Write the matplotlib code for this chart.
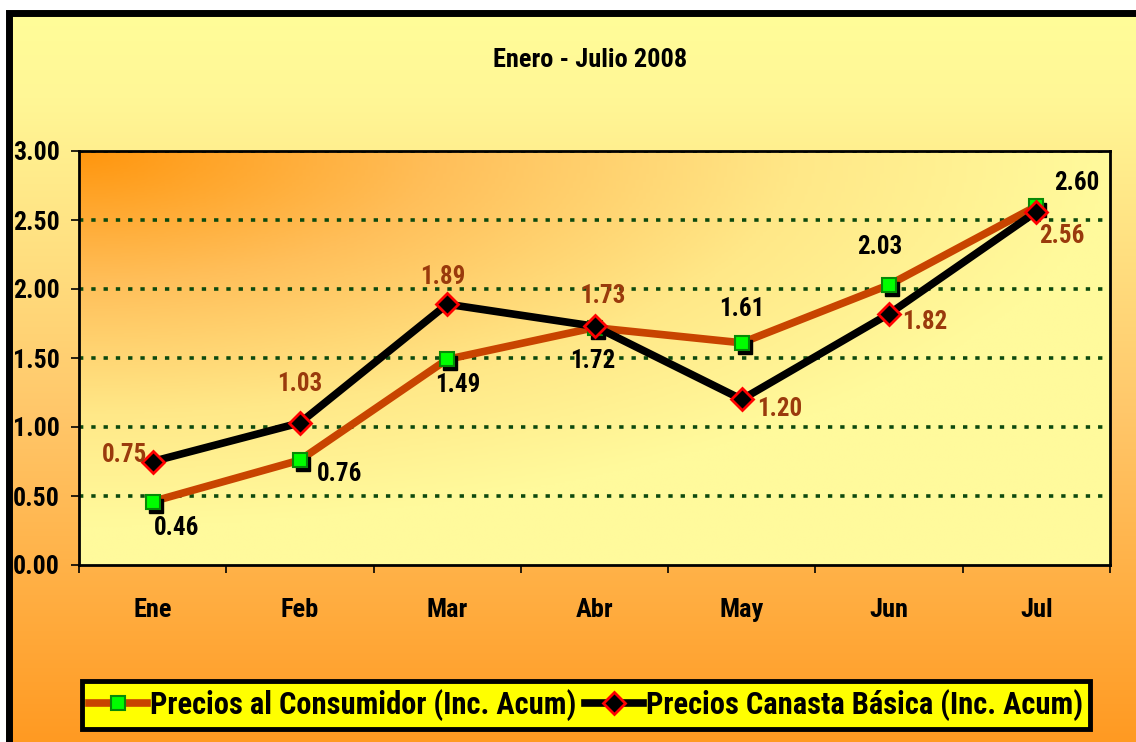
import matplotlib.pyplot as plt
import matplotlib.transforms as mtransforms
import numpy as np
from matplotlib.patches import Rectangle
from matplotlib.colors import LinearSegmentedColormap
from matplotlib.lines import Line2D

# data
meses = ["Ene", "Feb", "Mar", "Abr", "May", "Jun", "Jul"]
consumidor = [0.46, 0.76, 1.49, 1.72, 1.61, 2.03, 2.60]
canasta = [0.75, 1.03, 1.89, 1.73, 1.20, 1.82, 2.56]

# label offsets in pixels (dx, dy, dy positive = up)
off_consumidor = [(24, -26), (40, -14), (11, -26), (-2, -33), (0, 34), (-9, 38), (40, 23)]
off_canasta = [(-28, 6), (0, 39), (-4, 27), (8, 30), (38, -10), (36, -8), (25, -24)]

W, H = 1136, 742
FONT = ['Liberation Sans Narrow', 'Roboto Condensed', 'PT Sans Narrow', 'Archivo Narrow',
        'Open Sans Condensed', 'Liberation Sans', 'DejaVu Sans']
plt.rcParams['font.family'] = FONT
plt.rcParams['font.weight'] = 'bold'

ORANGE_LINE = '#C84400'
BROWN_TXT = '#9A3A0C'
px = 72.0 / 100  # points per pixel at dpi 100

fig = plt.figure(figsize=(W / 100, H / 100), dpi=100)
fig.patch.set_facecolor('white')

# outer background, vertical gradient
bg = fig.add_axes([6 / W, 0, 1 - 6 / W, 1 - 10 / H], zorder=-10)
cm_bg = LinearSegmentedColormap.from_list('bg', [(0, '#FFFD99'), (0.12, '#FFF796'),
                                                 (0.55, '#FFC76A'), (1, '#FF9A22')])
grad = np.linspace(0, 1, 256).reshape(-1, 1)
bg.imshow(grad, aspect='auto', cmap=cm_bg, extent=[0, 1, 0, 1], origin='upper')
bg.set_axis_off()

# thick outer frame
fig.patches.append(Rectangle((9 / W, -0.1), 1.2, 1 - 13 / H + 0.1, transform=fig.transFigure,
                             fill=False, edgecolor='black', linewidth=5, zorder=5))

# plot area
x0, x1, yt, yb = 79, 1110, 151, 565
ax = fig.add_axes([x0 / W, 1 - yb / H, (x1 - x0) / W, (yb - yt) / H])

# gradient from the top left corner (orange) to light yellow
gx, gy = np.meshgrid(np.linspace(0, 1, 300), np.linspace(0, 1, 200))
d = np.clip(np.sqrt((gx * 1.0) ** 2 + (gy * 1.1) ** 2), 0, 1)
cm_pa = LinearSegmentedColormap.from_list('pa', [(0, '#FF960E'), (0.35, '#FFBF5A'),
                                                 (0.7, '#FFE888'), (1, '#FFFA9C')])
ax.imshow(d, aspect='auto', cmap=cm_pa, extent=[-0.5, 6.5, 0, 3], origin='upper', zorder=0,
          vmin=0, vmax=1)
ax.set_xlim(-0.5, 6.5)
ax.set_ylim(0, 3)

# dotted grid
for v in np.arange(0.5, 3.01, 0.5):
    ax.axhline(v, color='#0E4A0E', linestyle=(0, (1.2, 2.2)), linewidth=2.6, zorder=1)

for s in ax.spines.values():
    s.set_linewidth(2)
    s.set_color('black')

ax.set_yticks(np.arange(0, 3.01, 0.5))
ax.set_yticklabels([f"{v:.2f}" for v in np.arange(0, 3.01, 0.5)], fontsize=18.5)
ax.set_xticks(np.arange(-0.5, 6.6, 1))
ax.set_xticklabels([])
ax.set_xticks(range(len(meses)), minor=True)
ax.set_xticklabels(meses, minor=True, fontsize=19)
ax.tick_params(axis='y', length=6, width=1.2, pad=8)
ax.tick_params(axis='x', which='major', direction='out', length=6, width=1.2)
ax.tick_params(axis='x', which='minor', length=0, pad=24)

x = np.arange(len(meses))
ax.plot(x, consumidor, color=ORANGE_LINE, linewidth=5.5, zorder=3, solid_capstyle='round')
# black shadow behind the square markers
shadow = ax.transData + mtransforms.ScaledTranslation(3 / 100, -4 / 100, fig.dpi_scale_trans)
ax.plot(x, consumidor, linestyle='none', marker='s', markersize=9.5, color='black', zorder=3.5,
        transform=shadow)
ax.plot(x, consumidor, linestyle='none', marker='s', markersize=9.5, markerfacecolor='#00FF00',
        markeredgecolor='#078A07', markeredgewidth=1.5, zorder=4)
ax.plot(x, canasta, color='black', linewidth=5.5, zorder=5, marker='D', markersize=11,
        markerfacecolor='black', markeredgecolor='#FF0000', markeredgewidth=2)

for i in range(len(meses)):
    dx, dy = off_consumidor[i]
    ax.annotate(f"{consumidor[i]:.2f}", (x[i], consumidor[i]), xytext=(dx * px, dy * px),
                textcoords='offset points', ha='center', va='center', fontsize=18,
                color='black', zorder=6)
    dx, dy = off_canasta[i]
    ax.annotate(f"{canasta[i]:.2f}", (x[i], canasta[i]), xytext=(dx * px, dy * px),
                textcoords='offset points', ha='center', va='center', fontsize=18,
                color=BROWN_TXT, zorder=6)

fig.text(590 / W, 1 - 60 / H, "Enero - Julio 2008", ha='center', va='center', fontsize=19)

handles = [
    Line2D([], [], color=ORANGE_LINE, linewidth=5.5, marker='s', markersize=9.5,
           markerfacecolor='#00FF00', markeredgecolor='#078A07', markeredgewidth=1.5),
    Line2D([], [], color='black', linewidth=5.5, marker='D', markersize=11,
           markerfacecolor='black', markeredgecolor='#FF0000', markeredgewidth=2),
]
leg = fig.legend(handles, ["Precios al Consumidor (Inc. Acum)", "Precios Canasta Básica (Inc. Acum)"],
                 loc='center', bbox_to_anchor=(586 / W, 1 - 705 / H), ncol=2, fontsize=22,
                 frameon=True, fancybox=False, handlelength=1.9, handletextpad=0.08,
                 columnspacing=0.3, borderpad=0.25, borderaxespad=0)
leg.get_frame().set_facecolor('#FFFF00')
leg.get_frame().set_edgecolor('black')
leg.get_frame().set_linewidth(3.5)
leg.get_frame().set_alpha(1)

fig.savefig('out.png', dpi=100)
